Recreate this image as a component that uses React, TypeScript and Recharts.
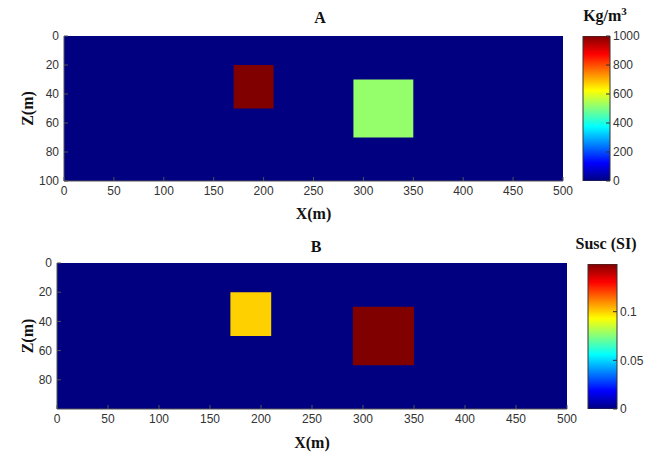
import React from "react";
import { ComposedChart, XAxis, YAxis, ReferenceArea, Bar, Label } from "recharts";

// model grid
const xTicks = [0, 50, 100, 150, 200, 250, 300, 350, 400, 450, 500];
const zTicksA = [0, 20, 40, 60, 80, 100];
const zTicksB = [0, 20, 40, 60, 80];

// two buried bodies (same geometry in both panels)
const bodyX1 = [170, 290];
const bodyX2 = [210, 350];
const bodyZ1 = [20, 30];
const bodyZ2 = [50, 70];

// property of each body
const densityValues = [1000, 520];
const suscValues = [0.1, 0.149];

// colour bar scales
const densityTicks = [0, 200, 400, 600, 800, 1000];
const densityMax = 1000;
const suscTicks = [0, 0.05, 0.1];
const suscMax = 0.149;

const clamp = (v: number) => Math.max(0, Math.min(1, v));
const jet = (t: number) => {
  const r = clamp(Math.min(4 * t - 1.5, -4 * t + 4.5));
  const g = clamp(Math.min(4 * t - 0.5, -4 * t + 3.5));
  const b = clamp(Math.min(4 * t + 0.5, -4 * t + 2.5));
  const h = (v: number) => Math.round(v * 255).toString(16).padStart(2, "0");
  return `#${h(r)}${h(g)}${h(b)}`;
};

const tickStyle = { fill: "#333", fontSize: 12, fontFamily: "Liberation Sans, Arial, sans-serif" };
const labelStyle = { fill: "#111", fontSize: 16, fontWeight: 700, fontFamily: "Liberation Serif, Times New Roman, serif" };
const frame = "#555";

type Margin = { top: number; right: number; left: number; bottom: number };

type PanelProps = {
  height: number;
  margin: Margin;
  yWidth: number;
  xHeight: number;
  zTicks: number[];
  values: number[];
  max: number;
};

const Panel = ({ height, margin, yWidth, xHeight, zTicks, values, max }: PanelProps) => (
  <ComposedChart width={600} height={height} margin={margin}>
    <ReferenceArea x1={0} x2={500} y1={0} y2={100} fill={jet(0)} fillOpacity={1} stroke="none" />
    {values.map((v, i) => (
      <ReferenceArea
        key={i}
        x1={bodyX1[i]}
        x2={bodyX2[i]}
        y1={bodyZ1[i]}
        y2={bodyZ2[i]}
        fill={jet(v / max)}
        fillOpacity={1}
        stroke="none"
      />
    ))}
    <XAxis
      type="number"
      dataKey="x"
      domain={[0, 500]}
      ticks={xTicks}
      interval={0}
      height={xHeight}
      tickSize={-4}
      tickMargin={9}
      tick={tickStyle}
      stroke={frame}
      allowDataOverflow
    >
      <Label value="X(m)" position="insideBottom" offset={6} style={labelStyle} />
    </XAxis>
    <XAxis xAxisId="top" orientation="top" type="number" domain={[0, 500]} ticks={xTicks} height={0} tickSize={-4} tick={false} stroke={frame} />
    <YAxis
      type="number"
      dataKey="z"
      domain={[0, 100]}
      reversed
      ticks={zTicks}
      interval={0}
      width={yWidth}
      tickSize={-4}
      tickMargin={9}
      tick={tickStyle}
      stroke={frame}
      allowDataOverflow
    >
      <Label value="Z(m)" angle={-90} position="insideLeft" offset={27} style={{ ...labelStyle, textAnchor: "middle" }} />
    </YAxis>
    <YAxis yAxisId="right" orientation="right" type="number" domain={[0, 100]} reversed ticks={zTicks} width={0} tickSize={-4} tick={false} stroke={frame} />
  </ComposedChart>
);

type BarProps = {
  id: string;
  height: number;
  margin: Margin;
  axisWidth: number;
  ticks: number[];
  max: number;
};

const gradientStops = [0, 0.125, 0.25, 0.375, 0.5, 0.625, 0.75, 0.875, 1];

const ColorBar = ({ id, height, margin, axisWidth, ticks, max }: BarProps) => (
  <ComposedChart width={80} height={height} margin={margin} data={[{ name: "scale", value: max }]} barCategoryGap={0}>
    <defs>
      <linearGradient id={id} x1="0" y1="1" x2="0" y2="0">
        {gradientStops.map((s) => (
          <stop key={s} offset={s} stopColor={jet(s)} />
        ))}
      </linearGradient>
    </defs>
    <XAxis dataKey="name" type="category" height={0} tick={false} tickLine={false} axisLine={false} />
    <YAxis
      orientation="right"
      type="number"
      domain={[0, max]}
      ticks={ticks}
      interval={0}
      width={axisWidth}
      tickSize={-4}
      tickMargin={7}
      tick={{ ...tickStyle, textAnchor: "start" }}
      axisLine={false}
      stroke="#333"
      allowDataOverflow
    />
    <Bar dataKey="value" fill={`url(#${id})`} stroke="#333" strokeWidth={1} isAnimationActive={false} />
  </ComposedChart>
);

const titleStyle = (x: number, y: number): React.CSSProperties => ({
  position: "absolute",
  left: x,
  top: y,
  transform: "translate(-50%, -50%)",
  fontFamily: "Liberation Serif, Times New Roman, serif",
  fontWeight: 700,
  fontSize: 16,
  color: "#111",
  whiteSpace: "nowrap",
});

export default function App() {
  return (
    <div style={{ position: "absolute", left: 0, top: 0, width: 657, height: 454, background: "#fff", overflow: "hidden" }}>
      <div style={{ position: "absolute", left: 0, top: 0 }}>
        <Panel height={225} margin={{ top: 36, right: 37, left: 0, bottom: 0 }} yWidth={64} xHeight={44} zTicks={zTicksA} values={densityValues} max={densityMax} />
      </div>
      <div style={{ position: "absolute", left: 570, top: 0 }}>
        <ColorBar id="jetA" height={225} margin={{ top: 36, right: 0, left: 13, bottom: 44 }} axisWidth={40} ticks={densityTicks} max={densityMax} />
      </div>
      <div style={{ position: "absolute", left: 0, top: 225 }}>
        <Panel height={229} margin={{ top: 38, right: 33, left: 0, bottom: 0 }} yWidth={57} xHeight={45} zTicks={zTicksB} values={suscValues} max={suscMax} />
      </div>
      <div style={{ position: "absolute", left: 575, top: 225 }}>
        <ColorBar id="jetB" height={229} margin={{ top: 39, right: 0, left: 13, bottom: 45 }} axisWidth={38} ticks={suscTicks} max={suscMax} />
      </div>
      <div style={titleStyle(320, 18)}>A</div>
      <div style={titleStyle(316, 247)}>B</div>
      <div style={titleStyle(605, 15)}>
        Kg/m<sup style={{ fontSize: 11 }}>3</sup>
      </div>
      <div style={titleStyle(606, 244)}>Susc (SI)</div>
    </div>
  );
}
